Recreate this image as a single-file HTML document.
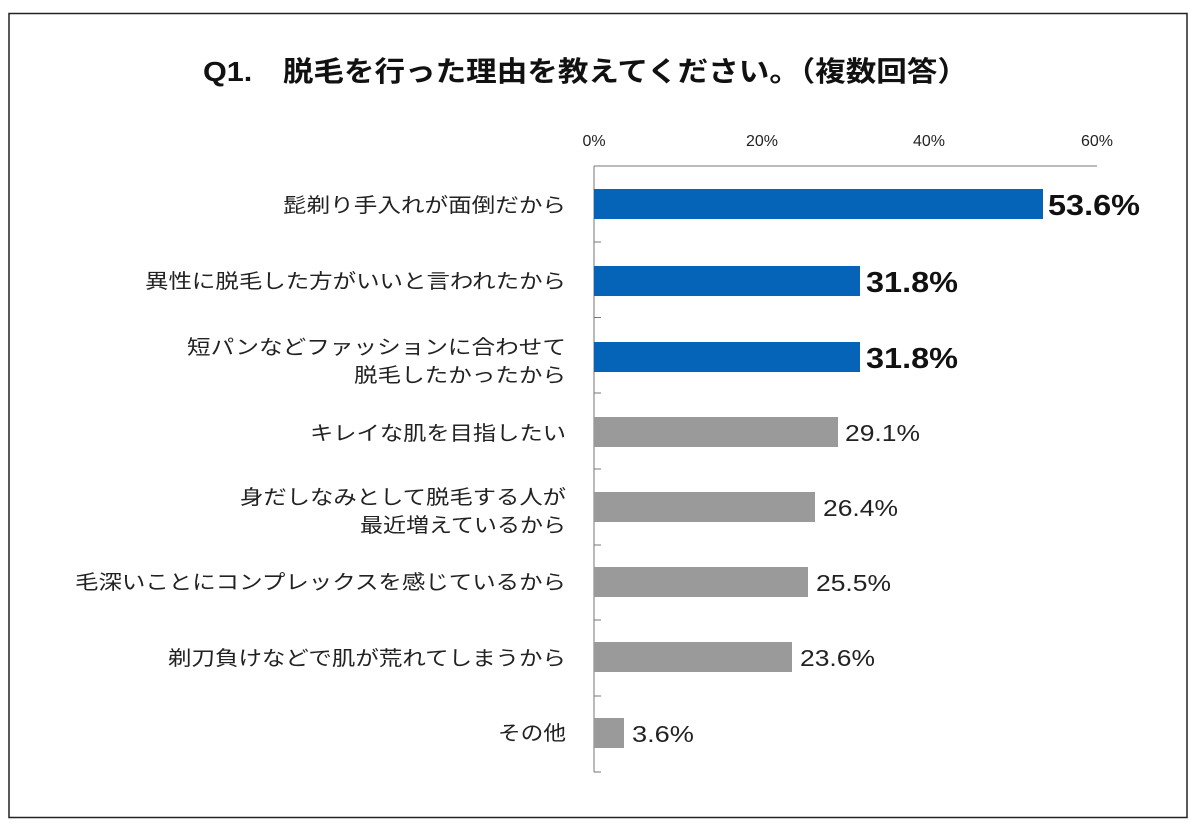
<!DOCTYPE html>
<html><head><meta charset="utf-8"><style>
body{margin:0;background:#fff;}
svg{display:block;font-family:"Liberation Sans","Noto Sans CJK JP",sans-serif;}
</style></head><body>
<svg width="1200" height="831" viewBox="0 0 1200 831" xmlns="http://www.w3.org/2000/svg">
<rect x="9" y="13.5" width="1178" height="804" fill="#fff" stroke="#222" stroke-width="1.5"/>
<text x="203" y="81" font-size="28" font-weight="bold" fill="#111" textLength="765" lengthAdjust="spacingAndGlyphs">Q1.　脱毛を行った理由を教えてください。（複数回答）</text>
<g font-size="16" fill="#222" text-anchor="middle">
<text x="594" y="146">0%</text><text x="762" y="146">20%</text><text x="929" y="146">40%</text><text x="1097" y="146">60%</text>
</g>
<line x1="594" y1="166" x2="1097" y2="166" stroke="#777" stroke-width="1"/>
<line x1="594" y1="166" x2="594" y2="772" stroke="#777" stroke-width="1"/>
<g stroke="#777" stroke-width="1">
<line x1="594" y1="242" x2="601" y2="242"/><line x1="594" y1="317.5" x2="601" y2="317.5"/>
<line x1="594" y1="393" x2="601" y2="393"/><line x1="594" y1="469" x2="601" y2="469"/>
<line x1="594" y1="545" x2="601" y2="545"/><line x1="594" y1="620" x2="601" y2="620"/>
<line x1="594" y1="696" x2="601" y2="696"/><line x1="594" y1="772" x2="601" y2="772"/>
</g>
<g>
<rect x="594" y="189" width="449" height="30" fill="#0563B8"/>
<rect x="594" y="266" width="266" height="30" fill="#0563B8"/>
<rect x="594" y="342" width="266" height="30" fill="#0563B8"/>
<rect x="594" y="417" width="244" height="30" fill="#9a9a9a"/>
<rect x="594" y="492" width="221" height="30" fill="#9a9a9a"/>
<rect x="594" y="567" width="214" height="30" fill="#9a9a9a"/>
<rect x="594" y="642" width="198" height="30" fill="#9a9a9a"/>
<rect x="594" y="718" width="30" height="30" fill="#9a9a9a"/>
</g>
<g font-size="29" font-weight="bold" fill="#111">
<text x="1048" y="215" textLength="92" lengthAdjust="spacingAndGlyphs">53.6%</text>
<text x="866" y="292" textLength="92" lengthAdjust="spacingAndGlyphs">31.8%</text>
<text x="866" y="368" textLength="92" lengthAdjust="spacingAndGlyphs">31.8%</text>
</g>
<g font-size="23" fill="#222">
<text x="845" y="441" textLength="75" lengthAdjust="spacingAndGlyphs">29.1%</text>
<text x="823" y="516" textLength="75" lengthAdjust="spacingAndGlyphs">26.4%</text>
<text x="816" y="591" textLength="75" lengthAdjust="spacingAndGlyphs">25.5%</text>
<text x="800" y="666" textLength="75" lengthAdjust="spacingAndGlyphs">23.6%</text>
<text x="632" y="742" textLength="62" lengthAdjust="spacingAndGlyphs">3.6%</text>
</g>
<g font-size="20" fill="#222">
<text x="283" y="212" textLength="283" lengthAdjust="spacingAndGlyphs">髭剃り手入れが面倒だから</text>
<text x="145" y="288" textLength="421" lengthAdjust="spacingAndGlyphs">異性に脱毛した方がいいと言われたから</text>
<text x="187" y="354" textLength="379" lengthAdjust="spacingAndGlyphs">短パンなどファッションに合わせて</text>
<text x="354" y="382" textLength="212" lengthAdjust="spacingAndGlyphs">脱毛したかったから</text>
<text x="310" y="440" textLength="256" lengthAdjust="spacingAndGlyphs">キレイな肌を目指したい</text>
<text x="240" y="504" textLength="326" lengthAdjust="spacingAndGlyphs">身だしなみとして脱毛する人が</text>
<text x="360" y="532" textLength="206" lengthAdjust="spacingAndGlyphs">最近増えているから</text>
<text x="75" y="589" textLength="491" lengthAdjust="spacingAndGlyphs">毛深いことにコンプレックスを感じているから</text>
<text x="168" y="665" textLength="398" lengthAdjust="spacingAndGlyphs">剃刀負けなどで肌が荒れてしまうから</text>
<text x="498" y="740" textLength="68" lengthAdjust="spacingAndGlyphs">その他</text>
</g>
</svg>
</body></html>
